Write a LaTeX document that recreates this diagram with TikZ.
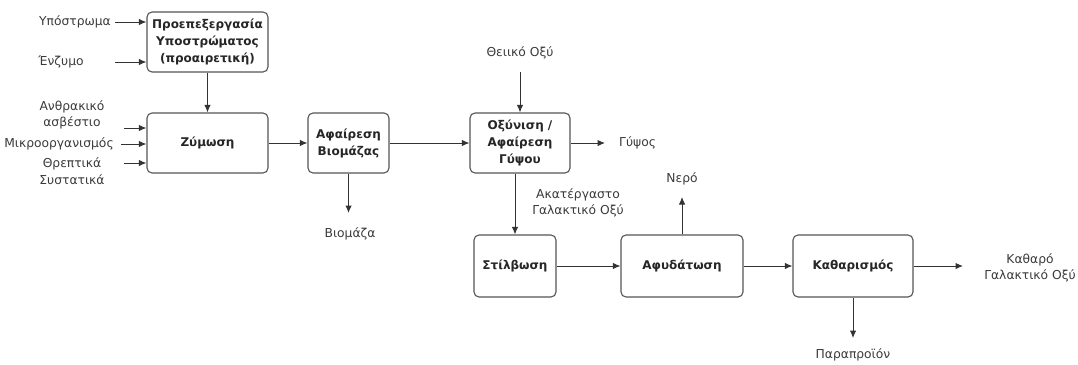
\documentclass[tikz,border=0pt]{standalone}
\usepackage{fontspec}
\setmainfont{DejaVu Sans}
\usetikzlibrary{arrows.meta}
\definecolor{linec}{HTML}{333333}
\definecolor{boxc}{HTML}{555555}
\definecolor{txtc}{HTML}{3A3A3A}
\tikzset{
  proc/.style={draw=boxc, line width=1.1pt, rounded corners=5pt, fill=white, align=center,
    font=\fontsize{12}{17}\selectfont\bfseries, text=black!85, inner sep=0pt},
  lbl/.style={font=\fontsize{12.3}{16.5}\selectfont, text=txtc, align=center, inner sep=0pt},
  flow/.style={draw=linec, line width=1pt, -{Latex[length=7.5pt,width=6.5pt]}},
}
\begin{document}
\begin{tikzpicture}[x=1pt,y=-1pt]
\useasboundingbox (0,0) rectangle (1078,364);
% boxes
\node[proc, minimum width=121pt, minimum height=60pt] (pre) at (207.5,42) {Προεπεξεργασία\\Υποστρώματος\\(προαιρετική)};
\node[proc, minimum width=121pt, minimum height=60pt] (zym) at (207.5,143) {Ζύμωση};
\node[proc, minimum width=81pt, minimum height=60pt] (bio) at (348.5,143) {Αφαίρεση\\Βιομάζας};
\node[proc, minimum width=100pt, minimum height=60pt] (oxy) at (520,143) {Οξύνιση /\\Αφαίρεση\\Γύψου};
\node[proc, minimum width=82pt, minimum height=62pt] (stil) at (515,266) {Στίλβωση};
\node[proc, minimum width=122pt, minimum height=62pt] (afy) at (682,266) {Αφυδάτωση};
\node[proc, minimum width=120pt, minimum height=62pt] (kath) at (853,266) {Καθαρισμός};
% labels
\node[lbl] (l1) at (75,22) {Υπόστρωμα};
\node[lbl] (l2) at (61,62) {Ένζυμο};
\node[lbl] (l3) at (72,115) {Ανθρακικό\\ασβέστιο};
\node[lbl] (l4) at (59,144) {Μικροοργανισμός};
\node[lbl] (l5) at (72,171) {Θρεπτικά\\Συστατικά};
\node[lbl] (l6) at (520,53) {Θειικό Οξύ};
\node[lbl, anchor=west] (l7) at (619,143) {Γύψος};
\node[lbl] (l8) at (350,234) {Βιομάζα};
\node[lbl] (l9) at (578,203) {Ακατέργαστο\\Γαλακτικό Οξύ};
\node[lbl] (l10) at (682,179) {Νερό};
\node[lbl] (l11) at (1030,268) {Καθαρό\\Γαλακτικό Οξύ};
\node[lbl] (l12) at (853,355) {Παραπροϊόν};
% connector end coordinates
\coordinate (s1) at (115,22);
\coordinate (s2) at (115,62);
\coordinate (s3) at (124,128);
\coordinate (s4) at (121,144);
\coordinate (s5) at (124,163);
\coordinate (s6) at (520,72);
\coordinate (e7) at (605,143);
\coordinate (e8) at (348.5,213);
\coordinate (e10) at (682,197);
\coordinate (e11) at (963,266);
\coordinate (e12) at (853,338);
% connectors
\draw[flow] (s1) -- (s1 -| pre.west);
\draw[flow] (s2) -- (s2 -| pre.west);
\draw[flow] (s3) -- (s3 -| zym.west);
\draw[flow] (s4) -- (s4 -| zym.west);
\draw[flow] (s5) -- (s5 -| zym.west);
\draw[flow] (pre.south) -- (zym.north);
\draw[flow] (zym.east) -- (bio.west);
\draw[flow] (bio.east) -- (oxy.west);
\draw[flow] (bio.south) -- (e8);
\draw[flow] (s6) -- (oxy.north);
\draw[flow] (oxy.east) -- (e7);
\draw[flow] (oxy.south -| stil.north) -- (stil.north);
\draw[flow] (stil.east) -- (afy.west);
\draw[flow] (afy.north) -- (e10);
\draw[flow] (afy.east) -- (kath.west);
\draw[flow] (kath.east) -- (e11);
\draw[flow] (kath.south) -- (e12);
\end{tikzpicture}
\end{document}
